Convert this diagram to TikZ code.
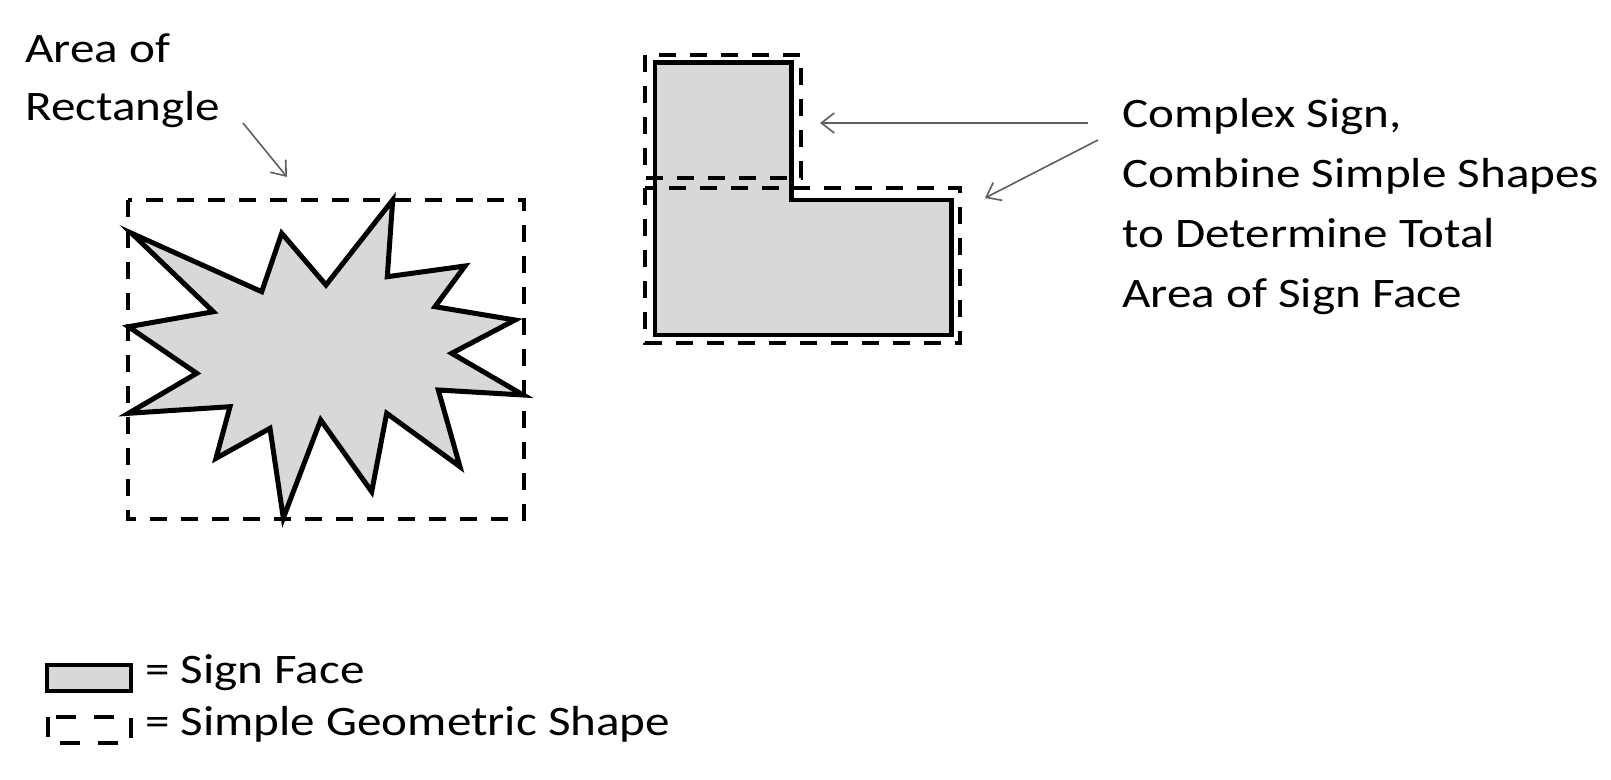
\documentclass[tikz,border=0pt]{standalone}
\usepackage{fontspec}
\setmainfont{Carlito}[FakeStretch=1.17]
\usetikzlibrary{arrows.meta}
\definecolor{signgray}{RGB}{216,216,216}
\definecolor{arrowgray}{RGB}{95,95,95}
\tikzset{
  signface/.style={draw=black, fill=signgray, line width=5pt, line join=miter},
  simpleshape/.style={draw=black, line width=4.5pt, dash pattern=on 17pt off 14pt},
  pointer/.style={draw=arrowgray, line width=1.6pt, -{Straight Barb[length=13pt,width=20pt,line width=1.6pt]}},
  label/.style={inner sep=0pt, anchor=base west, align=left},
}
\begin{document}
\begin{tikzpicture}[x=1pt,y=-1pt]
\useasboundingbox[fill=white] (0,0) rectangle (1611,779);

% starburst sign face
\draw[signface] (131.7,233.3) -- (261.7,291.7) -- (281.7,233.3) -- (326,285) -- (392.7,200)
  -- (387.3,276.7) -- (465,266) -- (435,306.7) -- (515,320) -- (451.7,353.3)
  -- (523.3,395) -- (438.3,390) -- (460,466.7) -- (386.7,413.3) -- (371.7,491.7)
  -- (320.7,420) -- (283.3,518) -- (270,428.3) -- (216,458.3) -- (230,406.7)
  -- (128.5,413.3) -- (196.7,373.3) -- (128.5,326.7) -- (213.3,311.7) -- cycle;
% rectangle around it
\coordinate (r1) at (128,200);
\coordinate (r2) at (524,519);
\draw[simpleshape] (r1) rectangle (r2);

% L-shaped complex sign
\draw[signface, line width=4.5pt] (655,62.7) -- (791.7,62.7) -- (791.7,200) -- (951.7,200) -- (951.7,335) -- (655,335) -- cycle;
\coordinate (t1) at (645,55);
\coordinate (t2) at (801,178);
\coordinate (b1) at (645,188);
\coordinate (b2) at (960,343);
\draw[simpleshape] (t1) rectangle (t2);
\draw[simpleshape] (b1) rectangle (b2);

% texts (anchored at the baseline of the last line)
\node[label, font=\fontsize{42}{58}\selectfont] (arearect) at (25,120) {Area of\\Rectangle};
\node[label, font=\fontsize{42}{60}\selectfont] (complex) at (1122,307) {Complex Sign,\\Combine Simple Shapes\\to Determine Total\\Area of Sign Face};

% arrows
\coordinate (a1s) at (243,123);
\coordinate (a1e) at (287,177);
\coordinate (a2s) at (1088,123);
\coordinate (a2e) at (820,123);
\coordinate (a3s) at (1098,140);
\coordinate (a3e) at (985,198);
\draw[pointer] (a1s) -- (a1e);
\draw[pointer] (a2s) -- (a2e);
\draw[pointer] (a3s) -- (a3e);

% legend
\coordinate (l1) at (47,665);
\coordinate (l2) at (131,691);
\draw[signface, line width=4.5pt] (l1) rectangle (l2);
\node[label, font=\fontsize{42}{52}\selectfont] (legface) at (145,683) {= Sign Face};
\coordinate (m1) at (48,717);
\coordinate (m2) at (131,743);
\draw[simpleshape, line width=4.5pt, dash pattern=on 20pt off 18pt] (m1) rectangle (m2);
\node[label, font=\fontsize{42}{52}\selectfont] (legsimple) at (145,735) {= Simple Geometric Shape};
\end{tikzpicture}
\end{document}
